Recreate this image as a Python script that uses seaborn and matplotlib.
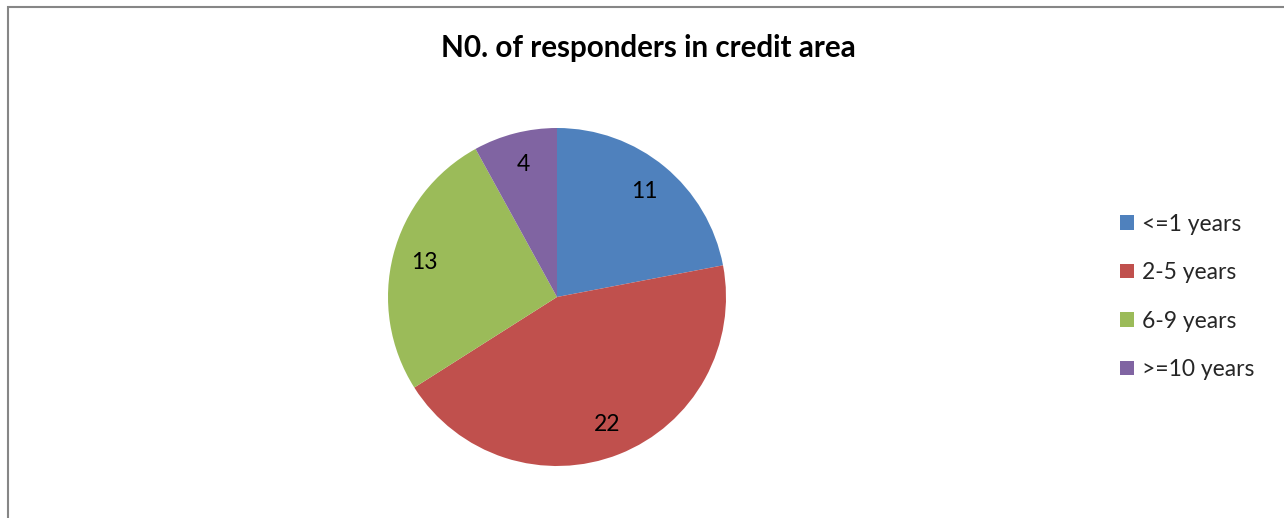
import matplotlib
matplotlib.use("Agg")
import matplotlib.pyplot as plt
import seaborn as sns
from matplotlib.patches import Rectangle

categories = ["<=1 years", "2-5 years", "6-9 years", ">=10 years"]
values = [11, 22, 13, 4]
colors = ["#4F81BD", "#C0504D", "#9BBB59", "#8064A2"]
title = "N0. of responders in credit area"

sns.set_theme(style="white")
plt.rcParams["font.family"] = ["Lato", "DejaVu Sans"]

W, H = 1284, 518
fig = plt.figure(figsize=(W / 100, H / 100), dpi=100)
fig.patch.set_facecolor("white")

# outer border
fig.patches.append(Rectangle((7.5 / W, -0.1), 1.2, (H - 7.5) / H + 0.1,
                             transform=fig.transFigure, fill=False,
                             edgecolor="#868686", linewidth=1.5, clip_on=False))

cx, cy, r = 557, H - 297, 169
ax = fig.add_axes([(cx - r) / W, (cy - r) / H, 2 * r / W, 2 * r / H])
wedges, texts = ax.pie(values, colors=colors, startangle=90, counterclock=False,
                       radius=1, labels=[str(v) for v in values], labeldistance=0.81,
                       textprops=dict(fontsize=16.5, color="black", ha="center", va="center"),
                       wedgeprops=dict(linewidth=0))
for t in texts:
    t.set_ha("center")
    t.set_va("center")
ax.set_xlim(-1, 1)
ax.set_ylim(-1, 1)
ax.set_aspect("equal")
ax.axis("off")

fig.text(648 / W, 1 - 48 / H, title, ha="center", va="center",
         fontsize=21.3, fontweight="bold", color="black")

leg = fig.legend(wedges, categories, loc="center left",
                 bbox_to_anchor=(1120 / W, 1 - 297 / H), frameon=False,
                 fontsize=16.5, handlelength=0.6, handleheight=0.6,
                 handletextpad=0.35, labelspacing=1.2, borderpad=0,
                 borderaxespad=0)

fig.savefig("out.png", dpi=100)
